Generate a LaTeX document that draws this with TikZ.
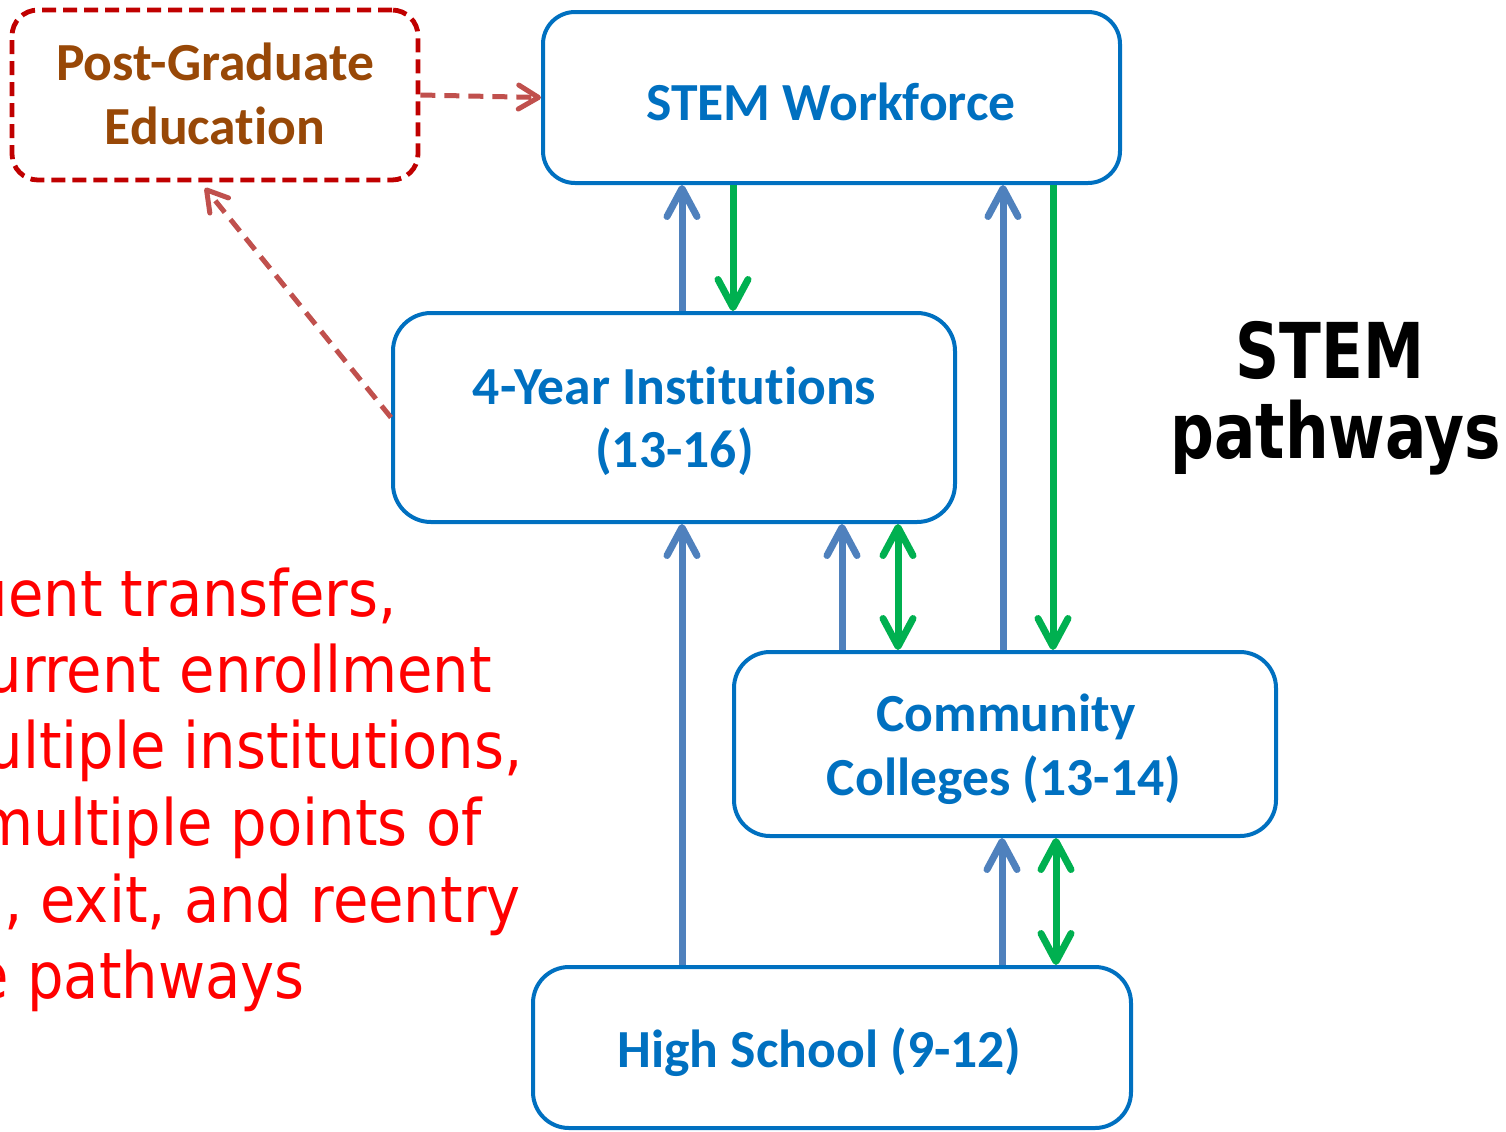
\documentclass[tikz,border=0pt]{standalone}
\usepackage{fontspec}
\setmainfont{Carlito}[Ligatures=NoCommon]
\newfontfamily\tah{DejaVu Sans Condensed}
\newfontfamily\tahb{DejaVu Sans Condensed}[FakeStretch=0.885]
\usetikzlibrary{arrows.meta}
\definecolor{boxblue}{HTML}{0070C0}
\definecolor{arrblue}{HTML}{4F81BD}
\definecolor{arrgreen}{HTML}{00B050}
\definecolor{pgred}{HTML}{C00000}
\definecolor{arrred}{HTML}{C0504D}
\definecolor{pgbrown}{HTML}{984807}
\tikzset{
  barb/.tip={Straight Barb[round,length=14pt,width=15pt]},
  rbarb/.tip={Straight Barb[round,length=10pt,width=12pt]},
  box/.style={draw=boxblue, line width=2pt, rounded corners=16pt, inner sep=0pt},
  pgbox/.style={draw=pgred, line width=2.4pt, rounded corners=13pt, inner sep=0pt,
    dash pattern=on 7pt off 3.5pt},
  btext/.style={text=boxblue, font=\bfseries\fontsize{26.8}{32}\selectfont, anchor=base, inner sep=0pt},
  pgtext/.style={btext, text=pgbrown},
  uparr/.style={draw=arrblue, line width=3.5pt, -barb},
  dnarr/.style={draw=arrgreen, line width=3.5pt, -barb},
  bdarr/.style={draw=arrgreen, line width=3.5pt, barb-barb},
  rdarr/.style={draw=arrred, line width=2.5pt, dash pattern=on 7.5pt off 4.5pt, -rbarb},
  redline/.style={text=red, font=\tah\fontsize{32}{39}\selectfont, anchor=base east, inner sep=0pt},
  titleline/.style={font=\tahb\bfseries\fontsize{38.5}{46}\selectfont, anchor=base, inner sep=0pt},
}
\begin{document}
\begin{tikzpicture}[x=0.5pt,y=-0.5pt]
\useasboundingbox (0,0) rectangle (1506,1131);
\clip (0,0) rectangle (1506,1131);
% boxes
\node[pgbox, minimum width=203pt, minimum height=85pt] (pg) at (215,95) {};
\node[box, minimum width=288.5pt, minimum height=85.5pt] (sw) at (831.5,97.5) {};
\node[box, rounded corners=19pt, minimum width=281pt, minimum height=104.5pt] (fy) at (674,417.5) {};
\node[box, rounded corners=18pt, minimum width=271pt, minimum height=92pt] (cc) at (1005,744) {};
\node[box, rounded corners=18pt, minimum width=299pt, minimum height=80.5pt] (hs) at (832,1047.5) {};
% box texts
\node[pgtext] (pg1) at (215,80.7) {Post-Graduate};
\node[pgtext] (pg2) at (215,144.3) {Education};
\node[btext] (sw1) at (831,120.7) {STEM Workforce};
\node[btext] (fy1) at (674.5,404) {4-Year Institutions};
\node[btext] (fy2) at (674.5,467) {(13-16)};
\node[btext] (cc1) at (1006,731) {Community};
\node[btext] (cc2) at (1004,795) {Colleges (13-14)};
\node[btext] (hs1) at (819.5,1067.3) {High School (9-12)};
% title
\node[titleline] (t1) at (1330,378) {STEM};
\node[titleline] (t2) at (1336,458) {pathways};
% red text
\node[redline] (r1) at (397,616) {uent transfers,};
\node[redline] (r2) at (492,692) {urrent enrollment};
\node[redline] (r3) at (523,768) {ultiple institutions,};
\node[redline] (r4) at (482,845) {multiple points of};
\node[redline] (r5) at (521,922) {, exit, and reentry};
\node[redline] (r6) at (305,998) {e pathways};
% x positions of connectors
\coordinate (xa) at (682,0);
\coordinate (xb) at (733,0);
\coordinate (xc) at (1003,0);
\coordinate (xd) at (1053,0);
\coordinate (xe) at (842,0);
\coordinate (xf) at (898,0);
\coordinate (xg) at (1002,0);
\coordinate (xh) at (1056,0);
\coordinate (pgtip) at (205,188);
% connectors
\draw[uparr] (fy.north -| xa) -- (sw.south -| xa);
\draw[dnarr] (sw.south -| xb) -- (fy.north -| xb);
\draw[uparr] (cc.north -| xc) -- (sw.south -| xc);
\draw[dnarr] (sw.south -| xd) -- (cc.north -| xd);
\draw[uparr] (hs.north -| xa) -- (fy.south -| xa);
\draw[uparr] (cc.north -| xe) -- (fy.south -| xe);
\draw[bdarr] (fy.south -| xf) -- (cc.north -| xf);
\draw[uparr] (hs.north -| xg) -- (cc.south -| xg);
\draw[bdarr] (cc.south -| xh) -- (hs.north -| xh);
\draw[rdarr] (pg.east) -- (sw.west);
\draw[rdarr] (fy.west) -- (pgtip);
\end{tikzpicture}
\end{document}
